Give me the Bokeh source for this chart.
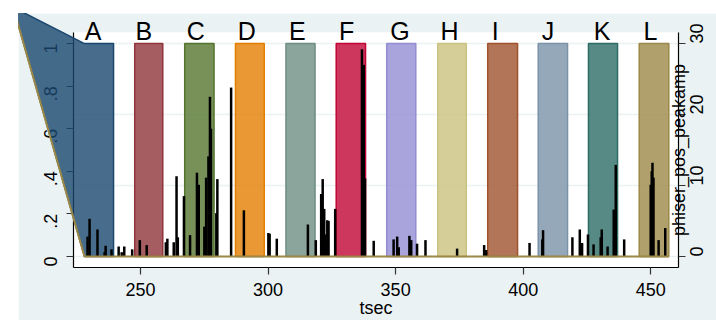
import math
from bokeh.plotting import figure
from bokeh.models import Range1d, LinearAxis, FixedTicker
from bokeh.core.properties import value
from bokeh.embed import file_html
from bokeh.resources import INLINE

# ---- data ----
band_names = ["A", "B", "C", "D", "E", "F", "G", "H", "I", "J", "K", "L"]
band_start = [228.0, 247.7, 267.3, 287.2, 307.0, 326.7, 346.5, 366.5, 386.1, 405.9, 425.6, 445.5]
band_end = [239.4, 258.7, 278.8, 298.5, 318.4, 338.2, 357.9, 377.7, 397.8, 417.4, 437.0, 457.1]
band_label_x = [231.4, 251.3, 271.6, 291.6, 311.5, 330.8, 351.7, 371.1, 389.0, 409.7, 430.9, 449.9]
band_label_y = 1.06
band_top = 1.0
lead_tsec = 200.1
lead_val = 1.17

spike_tsec = [229.2, 230.0, 233.1, 235.9, 236.3, 238.6, 241.4, 242.6, 243.6, 246.7,
              249.7, 252.4, 259.9, 260.5, 263.0, 264.1, 264.6, 267.0, 269.4, 272.1,
              272.8, 275.0, 275.7, 276.6, 277.2, 277.6, 279.7, 280.1, 285.5, 290.5,
              300.1, 300.6, 303.4, 315.6, 318.7, 320.8, 321.4, 322.0, 322.5, 323.2,
              323.7, 326.3, 336.8, 337.5, 338.0, 341.4, 349.2, 350.6, 351.2, 355.4,
              356.1, 358.4, 361.7, 374.1, 384.7, 385.5, 402.5, 407.5, 407.8, 419.3,
              422.2, 423.1, 425.4, 427.6, 430.4, 430.8, 433.1, 435.5, 436.3, 439.6,
              450.0, 450.4, 450.7, 451.1, 453.1, 455.7]
spike_amp = [2.8, 5.3, 3.8, 0.6, 1.5, 1.0, 1.4, 0.6, 1.4, 1.0,
             2.3, 1.6, 2.0, 2.5, 2.0, 11.3, 2.7, 8.5, 3.0, 11.8,
             10.1, 4.2, 11.1, 14.1, 22.5, 18.0, 6.1, 10.9, 23.8, 6.5,
             3.3, 3.2, 2.5, 4.5, 2.3, 8.8, 10.9, 6.7, 3.1, 5.1,
             5.0, 6.7, 29.2, 27.0, 11.0, 2.2, 2.4, 2.8, 1.3, 2.9,
             2.3, 1.8, 2.3, 1.1, 1.6, 0.9, 1.9, 2.4, 3.7, 2.7,
             3.8, 1.9, 3.1, 1.7, 2.7, 3.8, 1.4, 6.6, 12.9, 2.4,
             10.1, 12.0, 13.2, 11.1, 2.3, 4.0]

x_ticks = [250, 300, 350, 400, 450]
left_ticks = [0, 0.2, 0.4, 0.6, 0.8, 1.0]
left_tick_labels = ["0", ".2", ".4", ".6", ".8", "1"]
right_ticks = [0, 10, 20, 30]
x_title = "tsec"
right_title = "phiser_pos_peakamp"

x_lo, x_hi = 223.7, 460.9
y_lo, y_hi = -0.052, 1.052
amp_scale = 30.0

band_colors = ["#1a476f", "#90353b", "#55752f", "#e37e00", "#6e8e84", "#c10534",
               "#938dd2", "#cac27e", "#a0522d", "#7b92a8", "#2d6d66", "#9c8847"]

FONT = "Liberation Sans"
BG = "#eaf2f3"

p = figure(width=698, height=307, margin=(13, 0, 0, 18),
           x_range=Range1d(x_lo, x_hi), y_range=Range1d(y_lo, y_hi),
           output_backend="svg", toolbar_location=None,
           min_border_left=55, min_border_right=38, min_border_top=19, min_border_bottom=53,
           border_fill_color=BG, background_fill_color="white", outline_line_color=None)
p.extra_y_ranges = {"amp": Range1d(y_lo * amp_scale, y_hi * amp_scale)}

# grid from the right axis ticks
p.xgrid.visible = False
p.ygrid.y_range_name = "amp"
p.ygrid.ticker = FixedTicker(ticks=right_ticks)
p.ygrid.grid_line_color = BG
p.ygrid.grid_line_width = 1.6

# bands B..L
p.quad(left=band_start[1:], right=band_end[1:], bottom=0, top=band_top,
       fill_color=band_colors[1:], fill_alpha=0.8, line_color=band_colors[1:], line_width=1.5)

# band A with leading point
p.patch(x=[lead_tsec, band_start[0], band_end[0], band_end[0], band_start[0]],
        y=[lead_val, band_top, band_top, 0, 0],
        fill_color=band_colors[0], fill_alpha=0.8, line_color=band_colors[0], line_width=1.5,
        level="overlay")

# spikes
p.segment(x0=spike_tsec, y0=0, x1=spike_tsec, y1=spike_amp, y_range_name="amp",
          line_color="black", line_width=2.5, level="overlay")

# last area outline along base
p.line(x=[lead_tsec, band_start[0], band_end[-1]], y=[lead_val, 0, 0],
       line_color=band_colors[-1], line_width=2, level="overlay")

# letters (unclipped text glyph)
p.text(x=band_label_x, y=[band_label_y] * len(band_names), text=band_names,
       text_align="center", text_baseline="middle", text_font=value(FONT),
       text_font_size="25px", text_color="black", level="overlay")

# right-axis title, sitting on the right axis line
p.text(x=[x_hi], y=[(y_lo + y_hi) / 2], text=[right_title], angle=math.pi / 2,
       text_align="center", text_baseline="middle", text_font=value(FONT),
       text_font_size="18px", text_color="black", level="overlay")

# axes
def style_axis(ax):
    ax.axis_line_color = "black"
    ax.axis_line_width = 1.2
    ax.major_tick_line_color = "#333333"
    ax.major_tick_line_width = 1.2
    ax.major_tick_out = 7
    ax.major_tick_in = 0
    ax.minor_tick_line_color = None
    ax.major_label_text_font = FONT
    ax.major_label_text_font_size = "18px"
    ax.major_label_text_color = "black"
    ax.axis_label_text_font = FONT
    ax.axis_label_text_font_size = "18px"
    ax.axis_label_text_font_style = "normal"
    ax.axis_label_text_color = "black"

xa = p.xaxis[0]
style_axis(xa)
xa.ticker = FixedTicker(ticks=x_ticks)
xa.axis_label = x_title
xa.major_label_standoff = 8
xa.axis_label_standoff = -1

ya = p.yaxis[0]
style_axis(ya)
ya.ticker = FixedTicker(ticks=left_ticks)
ya.major_label_overrides = {t: s for t, s in zip(left_ticks, left_tick_labels)}
ya.major_label_orientation = math.pi / 2
ya.major_label_standoff = 16

ra = LinearAxis(y_range_name="amp", ticker=FixedTicker(ticks=right_ticks))
style_axis(ra)
ra.major_label_orientation = math.pi / 2
ra.major_label_standoff = 11
p.add_layout(ra, "right")

open("out.html", "w").write(file_html(p, INLINE))
